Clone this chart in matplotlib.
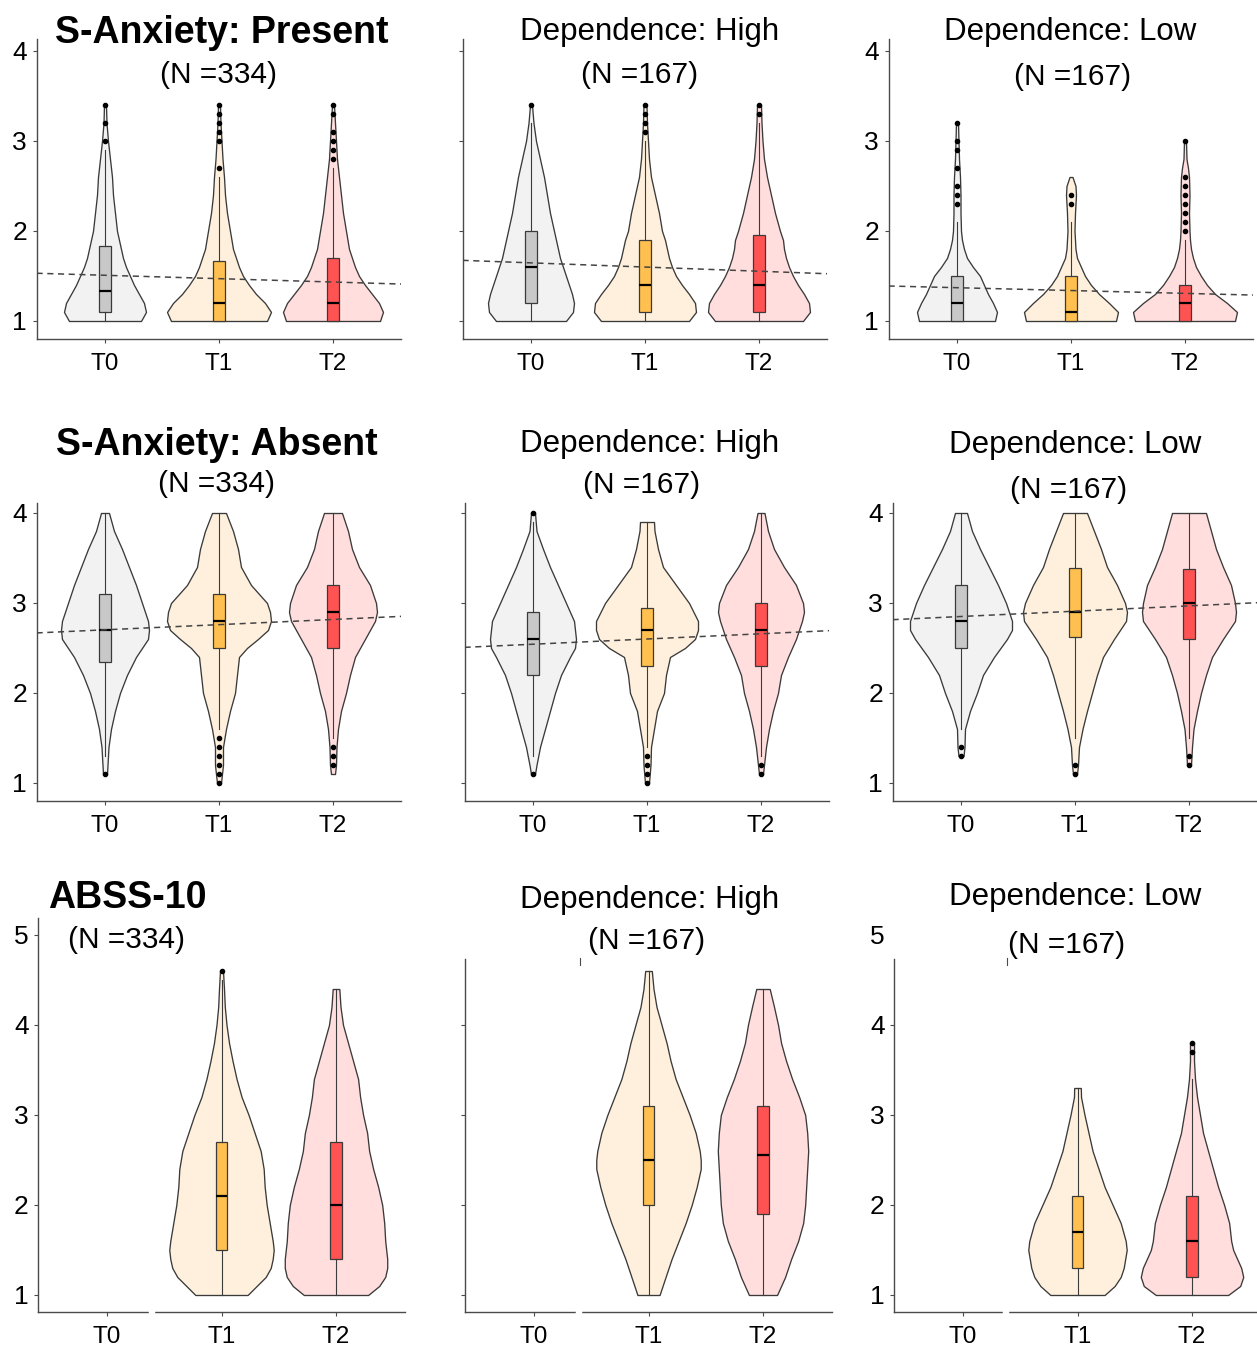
import numpy as np
import matplotlib
matplotlib.use("Agg")
import matplotlib.pyplot as plt
from matplotlib.lines import Line2D

plt.rcParams['font.family'] = ['Liberation Sans', 'DejaVu Sans']

# ---------------- data ----------------
categories = ['T0', 'T1', 'T2']

# Row 1 / col 1 : S-Anxiety present
r1c1_t0_y = [1.0, 1.1, 1.2, 1.3, 1.4, 1.5, 1.6, 1.7, 1.8, 1.9, 2.0, 2.2, 2.4, 2.6, 2.8, 3.0, 3.2, 3.4]
r1c1_t0_d = [36, 41, 39, 34, 29, 25, 21, 18, 16, 14, 12, 10, 8, 7, 5, 3, 1.5, 1]
r1c1_t1_y = [1.0, 1.1, 1.2, 1.3, 1.4, 1.5, 1.6, 1.7, 1.8, 2.0, 2.2, 2.4, 2.6, 2.8, 3.0, 3.2, 3.4]
r1c1_t1_d = [48, 52, 46, 37, 30, 24, 20, 17, 14, 11, 8, 6, 5, 3.5, 2.5, 1.5, 1]
r1c1_t2_y = [1.0, 1.1, 1.2, 1.3, 1.4, 1.5, 1.6, 1.7, 1.8, 2.0, 2.2, 2.4, 2.6, 2.8, 3.0, 3.2, 3.4]
r1c1_t2_d = [47, 50, 46, 39, 32, 26, 22, 19, 16, 13, 10, 8, 6, 4, 3, 2, 1]
r1c1_q1 = [1.1, 1.0, 1.0]
r1c1_med = [1.33, 1.2, 1.2]
r1c1_q3 = [1.83, 1.67, 1.7]
r1c1_lo = [1.0, 1.0, 1.0]
r1c1_hi = [2.9, 2.6, 2.7]
r1c1_out = [[3.0, 3.2, 3.4], [2.7, 3.0, 3.1, 3.2, 3.3, 3.4], [2.8, 2.9, 3.0, 3.1, 3.3, 3.4]]
r1c1_trend = [1.508, 1.433]

# Row 1 / col 2 : dependence high
r1c2_t0_y = [1.0, 1.1, 1.2, 1.3, 1.4, 1.5, 1.6, 1.7, 1.8, 1.9, 2.0, 2.2, 2.4, 2.6, 2.8, 3.0, 3.2, 3.4]
r1c2_t0_d = [35, 42, 43, 41, 38, 35, 32, 29, 27, 25, 23, 19, 16, 13, 9, 5, 2.5, 1]
r1c2_t1_y = [1.0, 1.1, 1.2, 1.3, 1.4, 1.5, 1.6, 1.7, 1.8, 1.9, 2.0, 2.2, 2.4, 2.6, 2.8, 3.0, 3.2, 3.4]
r1c2_t1_d = [44, 51, 50, 44, 37, 31, 27, 24, 22, 20, 17, 14, 10, 6, 4, 3, 2, 1.5]
r1c2_t2_y = [1.0, 1.1, 1.2, 1.3, 1.4, 1.5, 1.6, 1.7, 1.8, 1.9, 2.0, 2.2, 2.4, 2.6, 2.8, 3.0, 3.2, 3.4]
r1c2_t2_d = [44, 51, 50, 45, 39, 34, 30, 27, 25, 24, 21, 16, 12, 8, 5, 3.5, 2.5, 2]
r1c2_q1 = [1.2, 1.1, 1.1]
r1c2_med = [1.6, 1.4, 1.4]
r1c2_q3 = [2.0, 1.9, 1.95]
r1c2_lo = [1.0, 1.0, 1.0]
r1c2_hi = [3.2, 3.0, 3.2]
r1c2_out = [[3.4], [3.1, 3.2, 3.3, 3.4], [3.3, 3.4]]
r1c2_trend = [1.646, 1.553]

# Row 1 / col 3 : dependence low
r1c3_t0_y = [1.0, 1.1, 1.2, 1.3, 1.4, 1.5, 1.6, 1.7, 1.8, 1.9, 2.0, 2.2, 2.4, 2.6, 2.8, 3.0, 3.2]
r1c3_t0_d = [38, 40, 36, 31, 27, 23, 16, 10, 7, 5, 4, 3.5, 3.5, 3, 2, 1.5, 1]
r1c3_t1_y = [1.0, 1.1, 1.2, 1.3, 1.4, 1.5, 1.6, 1.7, 1.8, 2.0, 2.2, 2.4, 2.5, 2.6]
r1c3_t1_d = [45, 47, 38, 28, 20, 14, 10, 6, 4.5, 3.5, 4, 5, 4.5, 1.5]
r1c3_t2_y = [1.0, 1.1, 1.2, 1.3, 1.4, 1.5, 1.6, 1.7, 1.8, 1.9, 2.0, 2.2, 2.4, 2.6, 2.7, 2.8, 3.0]
r1c3_t2_d = [50, 52, 42, 30, 22, 16, 11, 8, 6, 5, 4.5, 4, 4.5, 4, 3, 1.5, 1]
r1c3_q1 = [1.0, 1.0, 1.0]
r1c3_med = [1.2, 1.1, 1.2]
r1c3_q3 = [1.5, 1.5, 1.4]
r1c3_lo = [1.0, 1.0, 1.0]
r1c3_hi = [2.1, 2.1, 1.9]
r1c3_out = [[2.3, 2.4, 2.5, 2.7, 2.9, 3.0, 3.2], [2.3, 2.4],
            [2.0, 2.1, 2.2, 2.3, 2.4, 2.5, 2.6, 3.0]]
r1c3_trend = [1.370, 1.307]

# Row 2 / col 1 : S-Anxiety absent
r2c1_t0_y = [1.1, 1.2, 1.4, 1.6, 1.8, 2.0, 2.2, 2.4, 2.6, 2.7, 2.8, 3.0, 3.2, 3.4, 3.6, 3.8, 4.0]
r2c1_t0_d = [2, 2.5, 3.5, 6, 10, 15, 22, 31, 43, 44, 43, 37, 31, 24, 17, 9, 4]
r2c1_t1_y = [1.0, 1.2, 1.4, 1.6, 1.8, 2.0, 2.2, 2.4, 2.5, 2.6, 2.7, 2.8, 2.9, 3.0, 3.2, 3.4, 3.6, 3.8, 4.0]
r2c1_t1_d = [2, 4, 4, 7, 11, 16, 18, 20, 28, 39, 49, 52, 51, 48, 32, 22, 19, 14, 7]
r2c1_t2_y = [1.1, 1.2, 1.4, 1.6, 1.8, 2.0, 2.2, 2.4, 2.6, 2.8, 2.9, 3.0, 3.2, 3.4, 3.6, 3.8, 4.0]
r2c1_t2_d = [2, 3, 3.5, 5, 8, 13, 17, 22, 32, 42, 44, 43, 37, 26, 19, 15, 9]
r2c1_q1 = [2.35, 2.5, 2.5]
r2c1_med = [2.7, 2.8, 2.9]
r2c1_q3 = [3.1, 3.1, 3.2]
r2c1_lo = [1.3, 1.6, 1.5]
r2c1_hi = [4.0, 4.0, 4.0]
r2c1_out = [[1.1], [1.0, 1.1, 1.2, 1.3, 1.4, 1.5], [1.2, 1.3, 1.4]]
r2c1_trend = [2.702, 2.817]

# Row 2 / col 2
r2c2_t0_y = [1.1, 1.2, 1.4, 1.6, 1.8, 2.0, 2.2, 2.4, 2.5, 2.6, 2.8, 3.0, 3.2, 3.4, 3.6, 3.8, 4.0]
r2c2_t0_d = [2, 3.5, 7, 12, 17, 22, 28, 37, 42, 43, 41, 33, 25, 17, 10, 3.5, 2]
r2c2_t1_y = [1.0, 1.2, 1.4, 1.6, 1.8, 2.0, 2.2, 2.4, 2.5, 2.6, 2.7, 2.8, 3.0, 3.2, 3.4, 3.6, 3.8, 3.9]
r2c2_t1_d = [2, 3.5, 4, 7, 10, 17, 19, 23, 38, 48, 51, 51, 42, 29, 16, 11, 7.5, 7]
r2c2_t2_y = [1.1, 1.2, 1.4, 1.6, 1.8, 2.0, 2.2, 2.4, 2.6, 2.8, 2.9, 3.0, 3.2, 3.4, 3.6, 3.8, 4.0]
r2c2_t2_d = [2, 3, 5, 8, 12, 17, 20, 27, 35, 41, 43, 42, 35, 23, 13, 7, 3.5]
r2c2_q1 = [2.2, 2.3, 2.3]
r2c2_med = [2.6, 2.7, 2.7]
r2c2_q3 = [2.9, 2.95, 3.0]
r2c2_lo = [1.3, 1.4, 1.3]
r2c2_hi = [3.9, 3.9, 4.0]
r2c2_out = [[1.1, 4.0], [1.0, 1.1, 1.2, 1.3], [1.1, 1.2]]
r2c2_trend = [2.542, 2.658]

# Row 2 / col 3
r2c3_t0_y = [1.3, 1.4, 1.6, 1.8, 2.0, 2.2, 2.4, 2.6, 2.7, 2.8, 3.0, 3.2, 3.4, 3.6, 3.8, 4.0]
r2c3_t0_d = [2.5, 3.5, 4, 9, 16, 22, 33, 46, 51, 51, 45, 37, 28, 19, 11, 6]
r2c3_t1_y = [1.1, 1.2, 1.4, 1.6, 1.8, 2.0, 2.2, 2.4, 2.6, 2.8, 2.9, 3.0, 3.2, 3.4, 3.6, 3.8, 4.0]
r2c3_t1_d = [2, 3, 4, 7.5, 12, 17, 22, 28, 39, 51, 52, 50, 42, 32, 26, 19, 12]
r2c3_t2_y = [1.2, 1.4, 1.6, 1.8, 2.0, 2.2, 2.4, 2.6, 2.8, 2.9, 3.0, 3.2, 3.4, 3.6, 3.8, 4.0]
r2c3_t2_d = [2, 3, 4.5, 8, 12, 17, 23, 34, 46, 47, 46, 42, 34, 27, 22, 17]
r2c3_q1 = [2.5, 2.62, 2.6]
r2c3_med = [2.8, 2.9, 3.0]
r2c3_q3 = [3.2, 3.39, 3.38]
r2c3_lo = [1.6, 1.5, 1.5]
r2c3_hi = [4.0, 4.0, 4.0]
r2c3_out = [[1.3, 1.4], [1.1, 1.2], [1.2, 1.3]]
r2c3_trend = [2.85, 2.968]

# Row 3 / col 1 : ABSS-10 (no T0 data)
r3c1_t1_y = [1.0, 1.1, 1.2, 1.3, 1.4, 1.5, 1.6, 1.8, 2.0, 2.2, 2.4, 2.6, 2.8, 3.0, 3.2, 3.4, 3.6, 3.8, 4.0, 4.2, 4.4, 4.6]
r3c1_t1_d = [26, 35, 44, 49, 51, 52, 51, 48, 45, 43, 42, 39, 33, 27, 20, 15, 11, 7.5, 5, 3.3, 2.5, 1.5]
r3c1_t2_y = [1.0, 1.1, 1.2, 1.3, 1.4, 1.5, 1.6, 1.8, 2.0, 2.2, 2.4, 2.6, 2.8, 3.0, 3.2, 3.4, 3.6, 3.8, 4.0, 4.2, 4.4]
r3c1_t2_d = [32, 43, 49, 51, 51, 50, 49, 48, 46, 42, 37, 33, 31, 27, 24, 22, 17, 12, 7, 4.5, 3.3]
r3c1_q1 = [1.5, 1.4]
r3c1_med = [2.1, 2.0]
r3c1_q3 = [2.7, 2.7]
r3c1_lo = [1.0, 1.0]
r3c1_hi = [4.5, 4.4]
r3c1_out = [[4.6], []]

# Row 3 / col 2
r3c2_t1_y = [1.0, 1.2, 1.4, 1.6, 1.8, 2.0, 2.2, 2.4, 2.5, 2.6, 2.8, 3.0, 3.2, 3.4, 3.6, 3.8, 4.0, 4.2, 4.4, 4.6]
r3c2_t1_d = [11, 17, 23, 30, 37, 43, 48, 52, 52, 51, 47, 41, 34, 27, 22, 18, 13, 8, 5, 3.3]
r3c2_t2_y = [1.0, 1.2, 1.4, 1.6, 1.8, 2.0, 2.2, 2.4, 2.6, 2.8, 3.0, 3.2, 3.4, 3.6, 3.8, 4.0, 4.2, 4.4]
r3c2_t2_d = [14, 22, 28, 35, 40, 42, 43, 44, 45, 44, 42, 36, 29, 23, 18, 15, 11, 6.7]
r3c2_q1 = [2.0, 1.9]
r3c2_med = [2.5, 2.55]
r3c2_q3 = [3.1, 3.1]
r3c2_lo = [1.0, 1.0]
r3c2_hi = [4.6, 4.4]
r3c2_out = [[], []]

# Row 3 / col 3
r3c3_t1_y = [1.0, 1.1, 1.2, 1.3, 1.4, 1.5, 1.6, 1.8, 2.0, 2.2, 2.4, 2.6, 2.8, 3.0, 3.2, 3.3]
r3c3_t1_d = [27, 37, 43, 46, 47.5, 49, 48, 43, 35, 27, 21, 15, 11, 7, 3.5, 3.3]
r3c3_t2_y = [1.0, 1.1, 1.2, 1.3, 1.4, 1.5, 1.6, 1.8, 2.0, 2.2, 2.4, 2.6, 2.8, 3.0, 3.2, 3.4, 3.6, 3.8]
r3c3_t2_d = [36, 48, 51, 49, 45, 41, 39, 37, 32, 26, 21, 16, 11, 8, 5, 3, 2, 2]
r3c3_q1 = [1.3, 1.2]
r3c3_med = [1.7, 1.6]
r3c3_q3 = [2.1, 2.1]
r3c3_lo = [1.0, 1.0]
r3c3_hi = [3.3, 3.4]
r3c3_out = [[], [3.7, 3.8]]

titles_main = ['S-Anxiety: Present', 'S-Anxiety: Absent', 'ABSS-10']
titles_dep = ['Dependence: High', 'Dependence: Low']
n_labels = ['(N =334)', '(N =167)', '(N =167)']

# ---------------- style ----------------
W, H = 1257, 1347
PX_PER_UNIT = 114.0
VIOLIN_FILL = ['#F2F2F2', '#FEF0DC', '#FFDEDD']
BOX_FILL = ['#C8C8C8', '#FFC04F', '#FF5353']
EDGE = '#3a3a3a'
AX_COL = '#4a4a4a'

fig = plt.figure(figsize=(W / 100, H / 100), dpi=100)


def add_axes_px(t0_px, spacing, y1_px, ylim):
    left = t0_px - 0.6 * spacing
    width = 3.2 * spacing
    unit = 90.0
    top = y1_px - (ylim[1] - 1) * unit
    bottom = y1_px + (1 - ylim[0]) * unit
    ax = fig.add_axes([left / W, 1 - bottom / H, width / W, (bottom - top) / H])
    ax.set_xlim(0.4, 3.6)
    ax.set_ylim(*ylim)
    return ax


def draw_panel(ax, cat_idx, ys, ds, q1, med, q3, lo, hi, out, trend, yticks, show_ylabels):
    positions = [i + 1 for i in cat_idx]
    vpstats = []
    widths = []
    for y, d, m in zip(ys, ds, med):
        vpstats.append(dict(coords=np.array(y, float), vals=np.array(d, float),
                            mean=m, median=m, min=y[0], max=y[-1]))
        widths.append(2 * max(d) / PX_PER_UNIT)
    parts = ax.violin(vpstats, positions=positions, widths=widths,
                      showmeans=False, showextrema=False, showmedians=False)
    for body, i in zip(parts['bodies'], cat_idx):
        body.set_facecolor(VIOLIN_FILL[i])
        body.set_edgecolor(EDGE)
        body.set_alpha(1)
        body.set_linewidth(0.95)
        body.set_zorder(1)
    stats = [dict(q1=a, med=b, q3=c, whislo=e, whishi=f, fliers=g)
             for a, b, c, e, f, g in zip(q1, med, q3, lo, hi, out)]
    bp = ax.bxp(stats, positions=positions, widths=0.1, showcaps=False,
                patch_artist=True, manage_ticks=False, zorder=3,
                boxprops=dict(edgecolor=EDGE, linewidth=0.9),
                medianprops=dict(color='black', linewidth=1.6),
                whiskerprops=dict(color=EDGE, linewidth=0.8),
                flierprops=dict(marker='o', markerfacecolor='black',
                                markeredgecolor='black', markersize=3.0))
    for patch, i in zip(bp['boxes'], cat_idx):
        patch.set_facecolor(BOX_FILL[i])
    if trend is not None:
        ax.axline((1, trend[0]), (3, trend[1]), color='#444444', lw=1.1,
                  ls=(0, (4, 3)), zorder=6)
    ax.set_xticks([1, 2, 3])
    ax.set_xticklabels(categories)
    ax.set_yticks(yticks)
    ax.set_yticklabels([str(t) for t in yticks] if show_ylabels else [])
    for s in ['top', 'right']:
        ax.spines[s].set_visible(False)
    for s in ['left', 'bottom']:
        ax.spines[s].set_color(AX_COL)
        ax.spines[s].set_linewidth(1.0)
    ax.tick_params(axis='both', length=3, width=0.8, color=AX_COL, labelcolor='black')
    ax.tick_params(axis='y', labelsize=19, pad=4)
    ax.tick_params(axis='x', labelsize=17.5, pad=7)


t0_cols = {1: [105, 531, 957], 2: [105, 533, 961], 3: [107, 534, 963]}
row_y1 = {1: 321, 2: 783, 3: 1295}
row_ylim = {1: (0.8, 4.13), 2: (0.8, 4.11), 3: (0.81, 5.19)}

panels = {
    (1, 1): ([0, 1, 2], [r1c1_t0_y, r1c1_t1_y, r1c1_t2_y], [r1c1_t0_d, r1c1_t1_d, r1c1_t2_d],
             r1c1_q1, r1c1_med, r1c1_q3, r1c1_lo, r1c1_hi, r1c1_out, r1c1_trend),
    (1, 2): ([0, 1, 2], [r1c2_t0_y, r1c2_t1_y, r1c2_t2_y], [r1c2_t0_d, r1c2_t1_d, r1c2_t2_d],
             r1c2_q1, r1c2_med, r1c2_q3, r1c2_lo, r1c2_hi, r1c2_out, r1c2_trend),
    (1, 3): ([0, 1, 2], [r1c3_t0_y, r1c3_t1_y, r1c3_t2_y], [r1c3_t0_d, r1c3_t1_d, r1c3_t2_d],
             r1c3_q1, r1c3_med, r1c3_q3, r1c3_lo, r1c3_hi, r1c3_out, r1c3_trend),
    (2, 1): ([0, 1, 2], [r2c1_t0_y, r2c1_t1_y, r2c1_t2_y], [r2c1_t0_d, r2c1_t1_d, r2c1_t2_d],
             r2c1_q1, r2c1_med, r2c1_q3, r2c1_lo, r2c1_hi, r2c1_out, r2c1_trend),
    (2, 2): ([0, 1, 2], [r2c2_t0_y, r2c2_t1_y, r2c2_t2_y], [r2c2_t0_d, r2c2_t1_d, r2c2_t2_d],
             r2c2_q1, r2c2_med, r2c2_q3, r2c2_lo, r2c2_hi, r2c2_out, r2c2_trend),
    (2, 3): ([0, 1, 2], [r2c3_t0_y, r2c3_t1_y, r2c3_t2_y], [r2c3_t0_d, r2c3_t1_d, r2c3_t2_d],
             r2c3_q1, r2c3_med, r2c3_q3, r2c3_lo, r2c3_hi, r2c3_out, r2c3_trend),
    (3, 1): ([1, 2], [r3c1_t1_y, r3c1_t2_y], [r3c1_t1_d, r3c1_t2_d],
             r3c1_q1, r3c1_med, r3c1_q3, r3c1_lo, r3c1_hi, r3c1_out, None),
    (3, 2): ([1, 2], [r3c2_t1_y, r3c2_t2_y], [r3c2_t1_d, r3c2_t2_d],
             r3c2_q1, r3c2_med, r3c2_q3, r3c2_lo, r3c2_hi, r3c2_out, None),
    (3, 3): ([1, 2], [r3c3_t1_y, r3c3_t2_y], [r3c3_t1_d, r3c3_t2_d],
             r3c3_q1, r3c3_med, r3c3_q3, r3c3_lo, r3c3_hi, r3c3_out, None),
}

for (r, c), args in panels.items():
    spacing = 114.0 if r < 3 else 114.5
    ax = add_axes_px(t0_cols[r][c - 1], spacing, row_y1[r], row_ylim[r])
    yt = [1, 2, 3, 4] if r < 3 else [1, 2, 3, 4, 5]
    draw_panel(ax, *args, yticks=yt, show_ylabels=(c != 2))
    if r == 3 and c > 1:
        ax.spines['left'].set_bounds(0.81, 4.73)
        ax.yaxis.get_major_ticks()[-1].tick1line.set_visible(False)

# ---------------- titles ----------------
def ftext(x, y, s, **kw):
    fig.text(x / W, 1 - y / H, s, ha='center', va='baseline', **kw)

ftext(222, 43, titles_main[0], fontsize=27, fontweight='bold')
ftext(218, 83, n_labels[0], fontsize=21.5)
ftext(650, 40, titles_dep[0], fontsize=22.5)
ftext(640, 83, n_labels[1], fontsize=21.5)
ftext(1070, 40, titles_dep[1], fontsize=22.5)
ftext(1073, 85, n_labels[2], fontsize=21.5)

ftext(217, 455, titles_main[1], fontsize=27, fontweight='bold')
ftext(217, 492, n_labels[0], fontsize=21.5)
ftext(650, 452, titles_dep[0], fontsize=22.5)
ftext(642, 493, n_labels[1], fontsize=21.5)
ftext(1075, 453, titles_dep[1], fontsize=22.5)
ftext(1069, 498, n_labels[2], fontsize=21.5)

ftext(127, 908, titles_main[2], fontsize=27, fontweight='bold')
ftext(127, 948, n_labels[0], fontsize=21.5)
ftext(650, 908, titles_dep[0], fontsize=22.5)
ftext(647, 949, n_labels[1], fontsize=21.5)
ftext(1075, 905, titles_dep[1], fontsize=22.5)
ftext(1067, 953, n_labels[2], fontsize=21.5)

# small breaks of the pasted bottom row (image composition artefacts)
for x0 in [150, 577, 1004]:
    fig.add_artist(Line2D([x0 / W, (x0 + 3) / W], [1 - 1312 / H] * 2, color='white', lw=2.5, zorder=10))
for x0 in [580, 1007]:
    fig.add_artist(Line2D([x0 / W] * 2, [1 - 958 / H, 1 - 965 / H], color=AX_COL, lw=0.8))

fig.savefig('out.png', dpi=100)
